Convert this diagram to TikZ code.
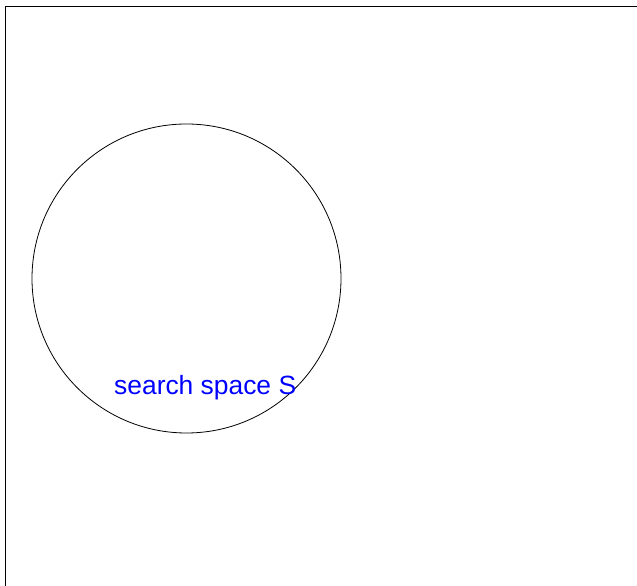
\documentclass[tikz,border=0pt]{standalone}
\usepackage{fontspec}
\setmainfont{Liberation Sans}
\begin{document}
\begin{tikzpicture}[x=1pt,y=1pt,
  frameline/.style={draw=black,line width=1pt},
  spacecircle/.style={draw=black,line width=0.8pt},
  spacelabel/.style={text=blue,font=\fontsize{26.4}{30}\selectfont,inner sep=0pt,anchor=base west}]
\useasboundingbox (0,0) rectangle (637,586);
\coordinate (fb) at (5.5,0);
\coordinate (fc) at (5.5,579.5);
\coordinate (fr) at (637,579.5);
\draw[frameline] (fb) -- (fc) -- (fr);
\node[spacecircle,circle,minimum size=309pt,inner sep=0pt] (S) at (186.5,307.5) {};
\node[spacelabel] (lbl) at (114,191) {search space S};
\end{tikzpicture}
\end{document}
